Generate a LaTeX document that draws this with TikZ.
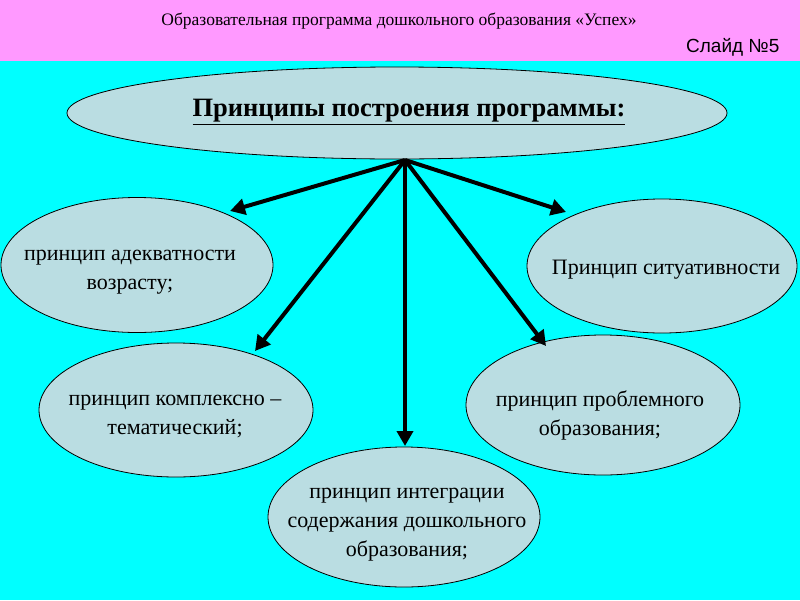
\documentclass[tikz,border=0pt]{standalone}
\usepackage{fontspec}
\setmainfont{Liberation Serif}
\newfontfamily\sansf{Liberation Sans}
\usetikzlibrary{shapes.geometric,arrows.meta}
\definecolor{pinkbg}{RGB}{255,153,255}
\definecolor{cyanbg}{RGB}{0,255,255}
\definecolor{ellfill}{RGB}{186,221,226}
\tikzset{
  ell/.style={ellipse,draw=black,line width=0.8pt,fill=ellfill,inner sep=0pt},
  lbl/.style={align=center,font=\fontsize{22}{29}\selectfont},
  arr/.style={line width=4pt,-{Triangle[length=15pt,width=16pt]}}
}
\begin{document}
\begin{tikzpicture}[x=1pt,y=-1pt]
\useasboundingbox (0,0) rectangle (800,600);
\fill[cyanbg] (0,0) rectangle (800,600);
\fill[pinkbg] (0,0) rectangle (800,61);
\node (hdr) at (399,21) {\fontsize{17.5}{20}\selectfont Образовательная программа дошкольного образования «Успех»};
\node[anchor=east] (sl) at (783,47) {\sansf\fontsize{19}{21}\selectfont Слайд №5};
\node[ell,minimum width=660pt,minimum height=92pt] (top) at (397,113) {};
\node (ttl) at (409,112) {\fontsize{26.5}{30}\selectfont\bfseries\underline{Принципы построения программы:}};
\coordinate (hub) at (405,160);
\node[ell,minimum width=272pt,minimum height=135pt] (e1) at (137,265) {};
\node[lbl] (t1) at (130,272) {принцип адекватности\\возрасту;};
\node[ell,minimum width=270pt,minimum height=134pt] (e2) at (662,266) {};
\node[lbl] (t2) at (666,270) {Принцип ситуативности};
\node[ell,minimum width=274pt,minimum height=134pt] (e3) at (176,410) {};
\node[lbl] (t3) at (175,417) {принцип комплексно –\\тематический;};
\node[ell,minimum width=274pt,minimum height=140pt] (e4) at (603,405) {};
\node[lbl] (t4) at (600,415) {принцип проблемного\\образования;};
\node[ell,minimum width=272pt,minimum height=140pt] (e5) at (404,517) {};
\node[lbl] (t5) at (407,525) {принцип интеграции\\содержания дошкольного\\образования;};
\draw[arr] (hub) -- (230,211);
\draw[arr] (hub) -- (566,212);
\draw[arr] (hub) -- (255,351);
\draw[arr] (hub) -- (546,346);
\draw[arr] (hub) -- (405,446);
\end{tikzpicture}
\end{document}
